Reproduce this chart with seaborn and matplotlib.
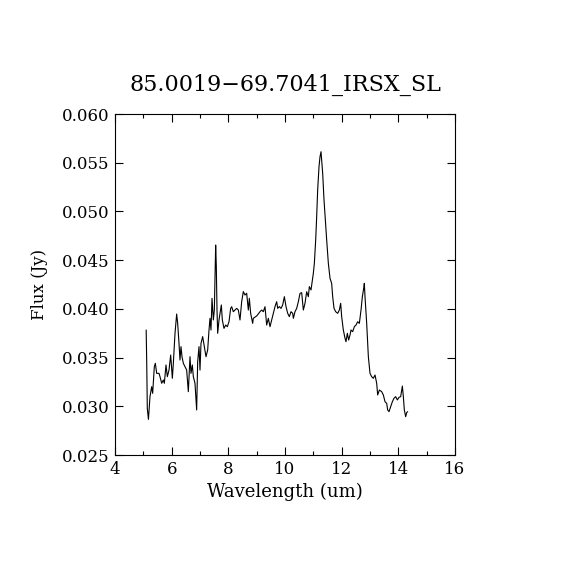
import matplotlib
matplotlib.use("Agg")
import matplotlib.pyplot as plt
from matplotlib.ticker import MultipleLocator, FormatStrFormatter
import seaborn as sns
import pandas as pd

title = "85.0019\u221269.7041_IRSX_SL"

wavelength = [
    5.10, 5.12, 5.14, 5.18, 5.235, 5.294, 5.329, 5.388, 5.424, 5.471, 5.553, 5.588,
    5.647, 5.706, 5.741, 5.800, 5.847, 5.906, 5.965, 6.024, 6.059, 6.118, 6.176,
    6.212, 6.259, 6.294, 6.329, 6.365, 6.412, 6.471, 6.529, 6.588, 6.647, 6.682,
    6.729, 6.765, 6.823, 6.882, 6.918, 6.965, 7.000, 7.035, 7.094, 7.153, 7.212,
    7.271, 7.318, 7.353, 7.388, 7.424, 7.471, 7.506, 7.553, 7.576, 7.600, 7.624,
    7.671, 7.706, 7.753, 7.788, 7.847, 7.906, 7.965, 8.024, 8.082, 8.118, 8.176,
    8.235, 8.294, 8.353, 8.412, 8.471, 8.529, 8.588, 8.647, 8.706, 8.741, 8.788,
    8.859, 8.882, 9.000, 9.118, 9.176, 9.235, 9.294, 9.353, 9.412,
    9.471, 9.530, 9.589, 9.647, 9.706, 9.742, 9.800, 9.859, 9.918, 9.977, 10.036,
    10.095, 10.153, 10.212, 10.271, 10.295, 10.353, 10.412, 10.471, 10.530, 10.589,
    10.647, 10.706, 10.765, 10.824, 10.859, 10.918, 10.965, 11.000, 11.036, 11.083,
    11.118, 11.153, 11.200, 11.236, 11.271, 11.295, 11.330, 11.377, 11.424, 11.471,
    11.530, 11.589, 11.647, 11.683, 11.730, 11.789, 11.859, 11.918, 11.965, 12.000,
    12.059, 12.118, 12.153, 12.200, 12.247, 12.295, 12.330, 12.389, 12.448, 12.506,
    12.565, 12.624, 12.683, 12.730, 12.777, 12.800, 12.824, 12.883, 12.942, 13.000,
    13.059, 13.118, 13.177, 13.236, 13.271, 13.330, 13.412, 13.471, 13.530, 13.589,
    13.624, 13.671, 13.730, 13.789, 13.847, 13.906, 13.965, 14.024, 14.083, 14.142,
    14.177, 14.212, 14.259, 14.295, 14.330,
]

flux = [
    0.03783, 0.03441, 0.02979, 0.02866, 0.03099, 0.03201, 0.03133, 0.03407, 0.03441,
    0.03338, 0.03338, 0.03304, 0.03236, 0.03270, 0.03236, 0.03424, 0.03304, 0.03372,
    0.03526, 0.03287, 0.03441, 0.03749, 0.03947, 0.03851, 0.03646, 0.03475, 0.03612,
    0.03509, 0.03441, 0.03407, 0.03372, 0.03150, 0.03509, 0.03338, 0.03424, 0.03304,
    0.03236, 0.02962, 0.03458, 0.03612, 0.03372, 0.03646, 0.03715, 0.03612, 0.03509,
    0.03578, 0.03783, 0.03903, 0.03783, 0.04108, 0.03886, 0.03988, 0.04655, 0.04433,
    0.03988, 0.03749, 0.03886, 0.03954, 0.04040, 0.03886, 0.03800, 0.03834, 0.03817,
    0.03869, 0.04005, 0.04022, 0.03971, 0.03988, 0.04005, 0.03988, 0.03886, 0.04074,
    0.04177, 0.04142, 0.04160, 0.03988, 0.04108, 0.03954, 0.03851, 0.03903, 0.03927,
    0.03971, 0.03988, 0.03971, 0.04022, 0.03834, 0.03903,
    0.03817, 0.03886, 0.03954, 0.04023, 0.04074, 0.04005, 0.04023, 0.04005, 0.04040,
    0.04125, 0.04023, 0.03954, 0.03920, 0.03971, 0.03954, 0.03903, 0.03971, 0.04005,
    0.04074, 0.04159, 0.04166, 0.03988, 0.04057, 0.04176, 0.04125, 0.04228, 0.04194,
    0.04296, 0.04365, 0.04467, 0.04707, 0.04946, 0.05220, 0.05459, 0.05562, 0.05613,
    0.05528, 0.05391, 0.05117, 0.04912, 0.04707, 0.04467, 0.04313, 0.04262, 0.04125,
    0.04005, 0.03971, 0.03954, 0.03988, 0.04057, 0.03920, 0.03783, 0.03698, 0.03663,
    0.03749, 0.03680, 0.03732, 0.03783, 0.03766, 0.03817, 0.03834, 0.03868, 0.03851,
    0.03988, 0.04125, 0.04210, 0.04262, 0.04125, 0.03851, 0.03509, 0.03338, 0.03304,
    0.03287, 0.03321, 0.03236, 0.03116, 0.03167, 0.03150, 0.03116, 0.03047, 0.03030,
    0.02962, 0.02945, 0.02996, 0.03047, 0.03082, 0.03099, 0.03065, 0.03092, 0.03099,
    0.03208, 0.03099, 0.02962, 0.02893, 0.02935, 0.02945,
]

x_label = "Wavelength (um)"
y_label = "Flux (Jy)"

df = pd.DataFrame({"wavelength": wavelength, "flux": flux})

sns.set_theme(style="ticks")
plt.rcParams["font.family"] = ["DejaVu Serif"]
plt.rcParams["text.color"] = "black"
plt.rcParams["axes.labelcolor"] = "black"
plt.rcParams["xtick.color"] = "black"
plt.rcParams["ytick.color"] = "black"

fig = plt.figure(figsize=(5.7, 5.7), dpi=100)
ax = fig.add_axes([115 / 570, 1 - 455 / 570, 340 / 570, 341 / 570])

sns.lineplot(data=df, x="wavelength", y="flux", ax=ax, color="black",
             linewidth=0.8, sort=False, estimator=None)

ax.set_xlim(4, 16)
ax.set_ylim(0.025, 0.060)
ax.xaxis.set_major_locator(MultipleLocator(2))
ax.xaxis.set_minor_locator(MultipleLocator(1))
ax.yaxis.set_major_locator(MultipleLocator(0.005))
ax.yaxis.set_major_formatter(FormatStrFormatter("%.3f"))

ax.tick_params(which="both", direction="in", top=True, right=True,
               colors="black", labelcolor="black", labelsize=12, width=0.8)
ax.tick_params(which="major", length=6, pad=4)
ax.tick_params(which="minor", length=3)
for s in ax.spines.values():
    s.set_color("black")
    s.set_linewidth(0.8)
    s.set_visible(True)

ax.set_xlabel(x_label, fontsize=13, labelpad=4, color="black")
ax.set_ylabel(y_label, fontsize=12, labelpad=10, color="black")
ax.set_title(title, fontsize=16, pad=17, color="black")

fig.savefig("out.png", dpi=100, facecolor="white")
